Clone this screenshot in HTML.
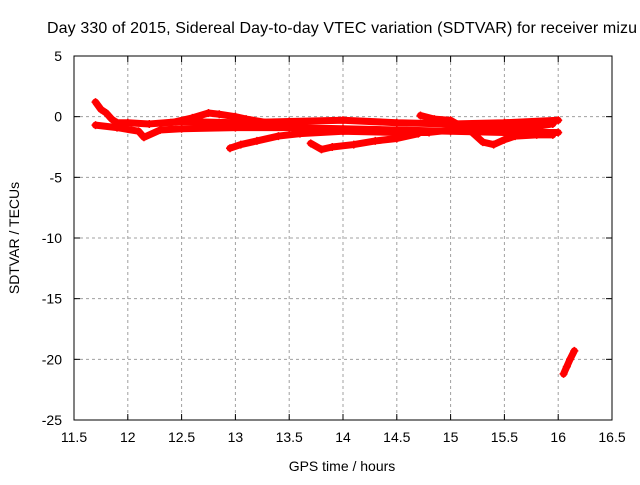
<!DOCTYPE html>
<html><head><meta charset="utf-8"><style>
body{margin:0;background:#fff;font-family:"Liberation Sans",sans-serif}
svg text{font-family:"Liberation Sans",sans-serif;font-size:14px;fill:#000}
</style></head><body>
<svg id="c" width="640" height="480">
<text x="47" y="33" style="font-size:16px" textLength="590">Day 330 of 2015, Sidereal Day-to-day VTEC variation (SDTVAR) for receiver mizu</text>
<text x="342" y="471" text-anchor="middle">GPS time / hours</text>
<text transform="translate(19,238) rotate(-90)" text-anchor="middle">SDTVAR / TECUs</text>
<g id="grid"></g><g id="ticks"></g><g id="marks"></g>
<rect x="74" y="56" width="538" height="364" fill="none" stroke="#000"/>
</svg>
<script>
const xTicks=[11.5,12,12.5,13,13.5,14,14.5,15,15.5,16,16.5];
const yTicks=[5,0,-5,-10,-15,-20,-25];
const trackAx=[11.7,11.75,11.8,11.85,11.9,12.0,12.2,12.5,13.0,13.5,14.0,14.5,15.0,15.5,16.0];
const trackAy=[1.2,0.6,0.3,-0.2,-0.5,-0.5,-0.6,-0.4,-0.5,-0.4,-0.3,-0.5,-0.6,-0.5,-0.3];
const trackBx=[11.7,11.9,12.1,12.15,12.3,12.5,13.0,13.5,14.0,14.5,15.0,15.5,16.0];
const trackBy=[-0.7,-0.9,-1.2,-1.7,-1.1,-1.0,-0.9,-0.9,-1.0,-1.1,-1.2,-1.3,-1.3];
const trackCx=[12.4,12.6,12.75,12.85,13.0,13.1,13.3];
const trackCy=[-0.5,-0.1,0.3,0.2,0.0,-0.2,-0.5];
const trackDx=[12.95,13.05,13.2,13.4,13.6,14.0,14.5,14.8,15.0,15.3,15.5,15.8,15.95];
const trackDy=[-2.6,-2.3,-2.0,-1.6,-1.4,-1.2,-1.3,-1.3,-1.1,-1.0,-0.9,-0.8,-0.6];
const trackEx=[13.7,13.8,13.9,14.1,14.3,14.5,14.7];
const trackEy=[-2.2,-2.7,-2.5,-2.3,-2.0,-1.8,-1.4];
const trackFx=[14.72,14.85,15.0,15.1,15.2,15.3,15.4,15.5,15.6,15.8,15.95];
const trackFy=[0.1,-0.2,-0.3,-0.8,-1.3,-2.1,-2.3,-1.9,-1.6,-1.5,-1.5];
const trackGx=[16.05,16.08,16.11,16.15];
const trackGy=[-21.2,-20.6,-20.0,-19.3];
const tracks=[[trackAx,trackAy],[trackBx,trackBy],[trackCx,trackCy],[trackDx,trackDy],[trackEx,trackEy],[trackFx,trackFy],[trackGx,trackGy]];
const X=v=>74+(v-11.5)*538/5, Y=v=>56+(5-v)*364/30;
const NS='http://www.w3.org/2000/svg';
function mk(t,a,p){const e=document.createElementNS(NS,t);for(const k in a)e.setAttribute(k,a[k]);document.getElementById(p).appendChild(e);return e;}
xTicks.forEach(t=>{const x=X(t);
 if(t>11.5&&t<16.5){const g=mk('line',{x1:x,x2:x,y1:56,y2:420,stroke:'#a0a0a0','stroke-dasharray':'3,3'},'grid');}
 const l=mk('text',{x:x,y:442,'text-anchor':'middle'},'ticks');l.textContent=t;
 
 
 mk('line',{x1:x,x2:x,y1:420,y2:414,stroke:'#000'},'ticks');mk('line',{x1:x,x2:x,y1:56,y2:62,stroke:'#000'},'ticks');});
yTicks.forEach(t=>{const y=Y(t);
 if(t<5&&t>-25){const g=mk('line',{x1:74,x2:612,y1:y,y2:y,stroke:'#a0a0a0','stroke-dasharray':'3,3'},'grid');}
 const l=mk('text',{x:62,y:y+5,'text-anchor':'end'},'ticks');l.textContent=t;
 
 
 mk('line',{x1:74,x2:80,y1:y,y2:y,stroke:'#000'},'ticks');mk('line',{x1:612,x2:606,y1:y,y2:y,stroke:'#000'},'ticks');});
tracks.forEach(([xs,ys])=>{
 const p=mk('polyline',{points:xs.map((v,i)=>X(v)+','+Y(ys[i])).join(' '),fill:'none',stroke:'#f00','stroke-width':7,'stroke-linejoin':'round','stroke-linecap':'round'},'marks');
 
 
 xs.forEach((v,i)=>{const x=X(v),y=Y(ys[i]);
  const m=mk('path',{d:`M${x-4},${y}H${x+4}M${x},${y-4}V${y+4}`,stroke:'#f00','stroke-width':1.5},'marks');
  
  });
});
</script>
</body></html>
